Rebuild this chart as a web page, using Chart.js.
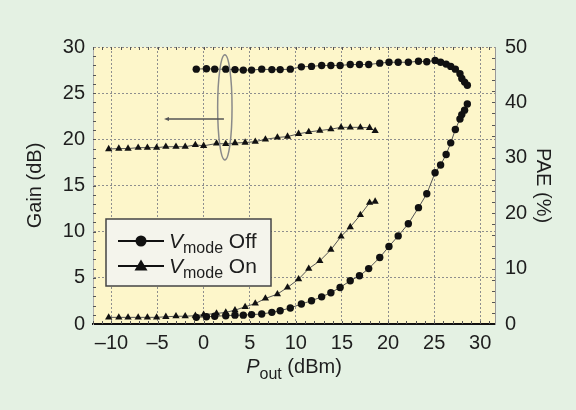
<!DOCTYPE html>
<html>
<head>
<meta charset="utf-8">
<script src="https://cdn.jsdelivr.net/npm/chart.js@4.4.0/dist/chart.umd.min.js"></script>
<style>
  html, body { margin: 0; padding: 0; background: #e4f1e3; }
</style>
</head>
<body>
<canvas id="paChart" width="576" height="410"></canvas>
<script>
// Vmode Off sweep (circles)
const poutOff = [-0.8, 0.3, 1.2, 2.4, 3.4, 4.3, 5.2, 6.3, 7.4, 8.3, 9.4, 10.6, 11.7, 12.8, 13.8, 14.8, 15.9, 16.9, 17.9, 19.1, 20.1, 21.1, 22.2, 23.3, 24.2, 25.1, 25.7, 26.3, 26.8, 27.3, 27.8, 28.0, 28.3, 28.6];
const gainOff = [27.6, 27.65, 27.6, 27.6, 27.55, 27.5, 27.5, 27.6, 27.55, 27.55, 27.6, 27.85, 27.9, 28.0, 28.0, 28.0, 28.1, 28.1, 28.1, 28.25, 28.35, 28.35, 28.35, 28.45, 28.4, 28.55, 28.35, 28.15, 27.9, 27.6, 27.1, 26.6, 26.2, 25.85];
const paeOff = [1.2, 1.3, 1.4, 1.5, 1.6, 1.6, 1.7, 1.8, 2.1, 2.4, 2.9, 3.6, 4.2, 4.9, 5.65, 6.6, 7.8, 8.7, 10.0, 12.0, 14.0, 15.9, 18.1, 21.0, 23.5, 27.3, 28.7, 30.6, 32.7, 35.1, 37.0, 37.8, 38.6, 39.7];

// Vmode On sweep (triangles)
const poutOn = [-10.3, -9.2, -8.2, -7.1, -6.1, -5.1, -4.1, -3.0, -2.0, -0.9, 0.0, 1.4, 2.4, 3.4, 4.5, 5.6, 6.7, 8.0, 9.1, 10.3, 11.4, 12.6, 13.8, 14.9, 15.9, 17.0, 18.0, 18.6];
const gainOn = [18.95, 19.0, 19.0, 19.1, 19.1, 19.1, 19.2, 19.2, 19.2, 19.4, 19.3, 19.55, 19.5, 19.6, 19.65, 19.75, 20.0, 20.2, 20.3, 20.6, 20.8, 20.95, 21.1, 21.3, 21.3, 21.3, 21.25, 20.9];
const paeOn = [1.2, 1.2, 1.2, 1.2, 1.2, 1.2, 1.3, 1.4, 1.4, 1.5, 1.7, 1.9, 2.1, 2.5, 3.1, 3.7, 4.6, 5.4, 6.6, 8.1, 10.0, 11.4, 13.4, 15.8, 17.5, 19.7, 21.9, 22.1];

const xTicks = [-10, -5, 0, 5, 10, 15, 20, 25, 30];
const gainTicks = [0, 5, 10, 15, 20, 25, 30];
const paeTicks = [0, 10, 20, 30, 40, 50];
const legendStates = ['Off', 'On'];

// ellipse around the gain curves, arrow pointing to the left axis (data units)
const gainMark = { x: 2.3, y: 23.45, rx: 0.78, ry: 5.7, arrowFrom: 2.2, arrowTo: -4.3, arrowY: 22.2 };

const FONT = '"Liberation Sans", Arial, Helvetica, sans-serif';
const INK = '#1e1e1e';
const FS = 20;
Chart.defaults.font.family = FONT;

function pts(xs, ys) {
  return xs.map((x, i) => ({ x: x, y: ys[i] }));
}

// draw a string made of runs (italic / subscript pieces)
function drawRuns(ctx, runs, x, y, centered) {
  let total = 0;
  runs.forEach(r => { ctx.font = r.font; total += ctx.measureText(r.text).width; });
  let cx = centered ? x - total / 2 : x;
  ctx.textBaseline = 'alphabetic';
  ctx.textAlign = 'left';
  runs.forEach(r => {
    ctx.font = r.font;
    ctx.fillText(r.text, cx, y + (r.dy || 0));
    cx += ctx.measureText(r.text).width;
  });
}

const backdrop = {
  id: 'backdrop',
  beforeDraw(chart) {
    const { ctx, chartArea: a } = chart;
    ctx.save();
    ctx.fillStyle = '#e4f1e3';
    ctx.fillRect(0, 0, chart.width, chart.height);
    ctx.fillStyle = '#fdf6ca';
    ctx.fillRect(a.left, a.top, a.right - a.left, a.bottom - a.top);
    ctx.restore();
  },
  beforeDatasetsDraw(chart) {
    // small minor ticks along the frame
    const { ctx, chartArea: a, scales } = chart;
    ctx.save();
    ctx.strokeStyle = '#555';
    ctx.lineWidth = 1;
    ctx.beginPath();
    for (let v = -12; v <= 31; v++) {
      const px = Math.round(scales.x.getPixelForValue(v)) + 0.5;
      if (px <= a.left || px >= a.right) continue;
      ctx.moveTo(px, a.top); ctx.lineTo(px, a.top + 3);
      ctx.moveTo(px, a.bottom); ctx.lineTo(px, a.bottom - 3);
    }
    for (let v = 1; v < 30; v++) {
      const py = Math.round(scales.y.getPixelForValue(v)) + 0.5;
      ctx.moveTo(a.left, py); ctx.lineTo(a.left + 3, py);
    }
    for (let v = 2; v < 50; v += 2) {
      const py = Math.round(scales.y1.getPixelForValue(v)) + 0.5;
      ctx.moveTo(a.right, py); ctx.lineTo(a.right - 3, py);
    }
    ctx.stroke();
    ctx.restore();
  },
  afterDatasetsDraw(chart) {
    const { ctx, scales: { x, y } } = chart;
    const cx = x.getPixelForValue(gainMark.x);
    const cy = y.getPixelForValue(gainMark.y);
    const rx = x.getPixelForValue(gainMark.x + gainMark.rx) - cx;
    const ry = cy - y.getPixelForValue(gainMark.y + gainMark.ry);
    ctx.save();
    ctx.strokeStyle = '#8a8a8a';
    ctx.lineWidth = 1.5;
    ctx.beginPath();
    ctx.ellipse(cx, cy, rx, ry, 0, 0, Math.PI * 2);
    ctx.stroke();
    const ay = y.getPixelForValue(gainMark.arrowY);
    const ax0 = x.getPixelForValue(gainMark.arrowFrom);
    const ax1 = x.getPixelForValue(gainMark.arrowTo);
    ctx.strokeStyle = '#555';
    ctx.lineWidth = 1.5;
    ctx.beginPath();
    ctx.moveTo(ax0, ay); ctx.lineTo(ax1 + 3, ay);
    ctx.stroke();
    ctx.fillStyle = '#555';
    ctx.beginPath();
    ctx.moveTo(ax1, ay); ctx.lineTo(ax1 + 5, ay - 2); ctx.lineTo(ax1 + 5, ay + 2);
    ctx.closePath(); ctx.fill();
    ctx.restore();
  },
  afterDraw(chart) {
    const { ctx, chartArea: a } = chart;
    ctx.save();
    ctx.fillStyle = INK;
    // x axis title: P_out (dBm)
    drawRuns(ctx, [
      { text: 'P', font: 'italic ' + FS + 'px ' + FONT },
      { text: 'out', font: '16px ' + FONT, dy: 6 },
      { text: ' (dBm)', font: FS + 'px ' + FONT }
    ], (a.left + a.right) / 2, 373, true);

    // legend box
    const bx = a.left + 13, by = a.top + 172, bw = 165, bh = 67;
    ctx.fillStyle = '#f4f4ec';
    ctx.fillRect(bx, by, bw, bh);
    ctx.strokeStyle = '#444';
    ctx.lineWidth = 1.5;
    ctx.strokeRect(bx, by, bw, bh);
    legendStates.forEach((state, i) => {
      const ry = by + 22 + i * 25;
      ctx.strokeStyle = '#111';
      ctx.lineWidth = 2;
      ctx.beginPath();
      ctx.moveTo(bx + 12, ry); ctx.lineTo(bx + 58, ry);
      ctx.stroke();
      ctx.fillStyle = '#111';
      ctx.beginPath();
      if (i === 0) {
        ctx.arc(bx + 35, ry, 5.5, 0, Math.PI * 2);
      } else {
        ctx.moveTo(bx + 35, ry - 6.5); ctx.lineTo(bx + 41.5, ry + 4.5); ctx.lineTo(bx + 28.5, ry + 4.5);
        ctx.closePath();
      }
      ctx.fill();
      ctx.fillStyle = INK;
      drawRuns(ctx, [
        { text: 'V', font: 'italic 21px ' + FONT },
        { text: 'mode', font: '16px ' + FONT, dy: 5 },
        { text: ' ' + state, font: '21px ' + FONT }
      ], bx + 63, ry + 7, false);
    });
    ctx.restore();
  }
};

const ctx = document.getElementById('paChart').getContext('2d');
new Chart(ctx, {
  type: 'line',
  data: {
    datasets: [
      { label: 'Gain Off', data: pts(poutOff, gainOff), yAxisID: 'y', pointStyle: 'circle', pointRadius: 3.7 },
      { label: 'Gain On', data: pts(poutOn, gainOn), yAxisID: 'y', pointStyle: 'triangle', pointRadius: 4.2 },
      { label: 'PAE Off', data: pts(poutOff, paeOff), yAxisID: 'y1', pointStyle: 'circle', pointRadius: 3.7 },
      { label: 'PAE On', data: pts(poutOn, paeOn), yAxisID: 'y1', pointStyle: 'triangle', pointRadius: 4.2 }
    ].map(d => Object.assign(d, {
      borderColor: '#555',
      borderWidth: 1,
      pointBackgroundColor: '#111',
      pointBorderColor: '#111',
      pointBorderWidth: 0,
      tension: 0,
      fill: false
    }))
  },
  options: {
    responsive: false,
    devicePixelRatio: 1,
    animation: false,
    layout: { padding: { left: 0, right: 0, top: 47, bottom: 0 } },
    plugins: {
      legend: { display: false },
      tooltip: { enabled: false }
    },
    scales: {
      x: {
        type: 'linear',
        min: -12,
        max: 31.6,
        afterBuildTicks: s => { s.ticks = xTicks.map(v => ({ value: v })); },
        afterFit: s => { s.height = 86; },
        ticks: {
          color: INK,
          font: { size: FS },
          padding: 7,
          callback: v => String(v).replace('-', '\u2013')
        },
        grid: { color: '#8e8e8e', lineWidth: 1, drawTicks: false },
        border: { color: '#111', width: 2, dash: [2, 2] }
      },
      y: {
        position: 'left',
        min: 0,
        max: 30,
        afterBuildTicks: s => { s.ticks = gainTicks.map(v => ({ value: v })); },
        afterFit: s => { s.width = 93; },
        ticks: { color: INK, font: { size: FS }, padding: 8 },
        grid: { color: '#8e8e8e', lineWidth: 1, drawTicks: false },
        border: { color: '#b0b0b0', width: 1, dash: [2, 2] },
        title: { display: true, text: 'Gain (dB)', color: INK, font: { size: FS }, padding: { top: 23, bottom: 0 } }
      },
      y1: {
        position: 'right',
        min: 0,
        max: 50,
        afterBuildTicks: s => { s.ticks = paeTicks.map(v => ({ value: v })); },
        afterFit: s => { s.width = 81; },
        ticks: { color: INK, font: { size: FS }, padding: 10 },
        grid: { display: false, drawTicks: false },
        border: { color: '#999', width: 1 },
        title: { display: true, text: 'PAE (%)', color: INK, font: { size: FS }, padding: { top: 21, bottom: 0 } }
      }
    }
  },
  plugins: [backdrop]
});
</script>
</body>
</html>
